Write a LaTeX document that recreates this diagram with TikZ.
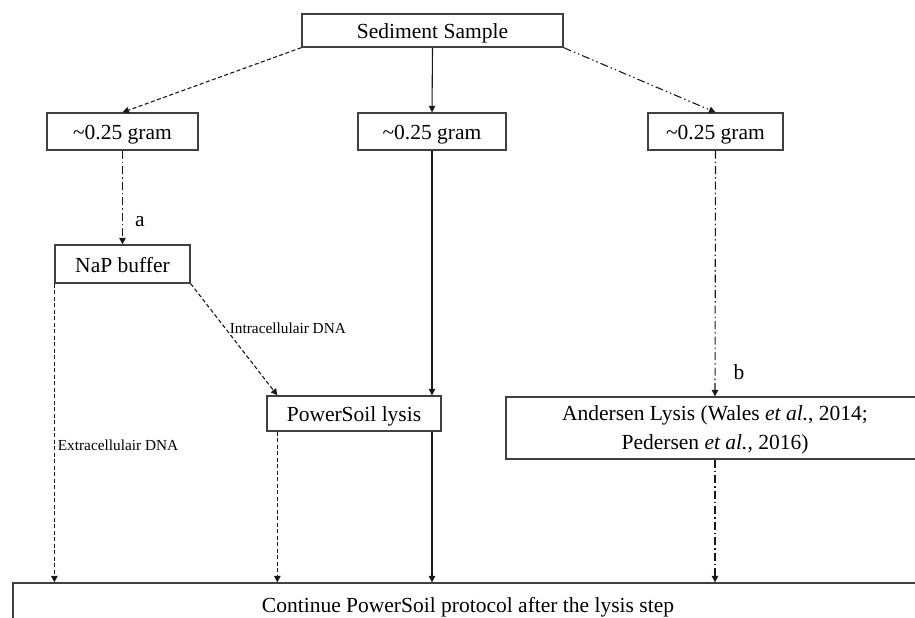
\documentclass[tikz,border=0pt]{standalone}
\usepackage{fontspec}
\setmainfont{Liberation Serif}
\usetikzlibrary{arrows.meta}
\begin{document}
\begin{tikzpicture}[x=1pt, y=-1pt,
      box/.style = {draw=black!75, line width=1.3pt, inner sep=0pt, font=\fontsize{21.5}{29}\selectfont},
      single/.style = {text height=18pt, text depth=2pt},
      link/.style = {draw=black!90, line width=1.1pt, -{Triangle[width=6.5pt,length=6.5pt]}},
      dashes/.style = {dash pattern=on 4pt off 2.5pt},
      dashdot/.style = {dash pattern=on 8pt off 3pt on 1.5pt off 3pt},
      dashdotdot/.style = {dash pattern=on 8pt off 3pt on 1.5pt off 3pt on 1.5pt off 3pt},
      note/.style = {font=\fontsize{15.3}{17}\selectfont, inner sep=1pt},
      auto]
    \useasboundingbox (0,0) rectangle (915,618);
    \clip (0,0) rectangle (915,618);
    % nodes
    \node[box, single, minimum width=261pt, minimum height=33pt] (sample) at (432.5, 30.5) {Sediment Sample};
    \node[box, single, minimum width=151pt, minimum height=37pt] (gramA) at (122.5, 131.5) {\textasciitilde0.25 gram};
    \node[box, single, minimum width=148pt, minimum height=37pt] (gramB) at (432, 131.5) {\textasciitilde0.25 gram};
    \node[box, single, minimum width=135pt, minimum height=37pt] (gramC) at (715.5, 131.5) {\textasciitilde0.25 gram};
    \node[box, single, minimum width=135pt, minimum height=38pt] (nap) at (122.5, 264) {NaP buffer};
    \node[box, single, minimum width=174pt, minimum height=35pt] (psl) at (354, 413.5) {PowerSoil lysis};
    \node[box, minimum width=418pt, minimum height=62pt, align=center, text depth=-3pt] (andersen) at (715, 428)
      {Andersen Lysis (Wales \textit{et al.}, 2014;\\ Pedersen \textit{et al.}, 2016)};
    \node[box, single, minimum width=910pt, minimum height=42pt] (cont) at (468, 604)
      {Continue PowerSoil protocol after the lysis step};

    % left branch
    \draw[link, dashes] (sample.south west) -- (gramA.north);
    \draw[link, dashdot] (gramA.south) -- node[right=12pt, pos=.76, box, draw=none] {a} (nap.north);
    \draw[link, dashes] (nap.south west) -- node[right=2pt, note, pos=.54] {Extracellulair DNA} (nap.south west |- cont.north);
    \draw[link, dashes] (nap.south east) -- node[right=3pt, note, pos=.4] {Intracellulair DNA} ([xshift=11pt]psl.north west);
    \draw[link, dashes] ([xshift=11pt]psl.south west) -- ([xshift=11pt]psl.south west |- cont.north);

    % middle branch
    \draw[link] (sample.south) -- (gramB.north);
    \draw[link] (gramB.south) -- (gramB.south |- psl.north);
    \draw[link] (gramB.south |- psl.south) -- (gramB.south |- cont.north);

    % right branch
    \draw[link, dashdotdot] (sample.south east) -- (gramC.north);
    \draw[link, dashdot] (gramC.south) -- node[right=18pt, pos=.9, box, draw=none] {b} (andersen.north);
    \draw[link, dashdot] (andersen.south) -- (andersen.south |- cont.north);
  \end{tikzpicture}
\end{document}
